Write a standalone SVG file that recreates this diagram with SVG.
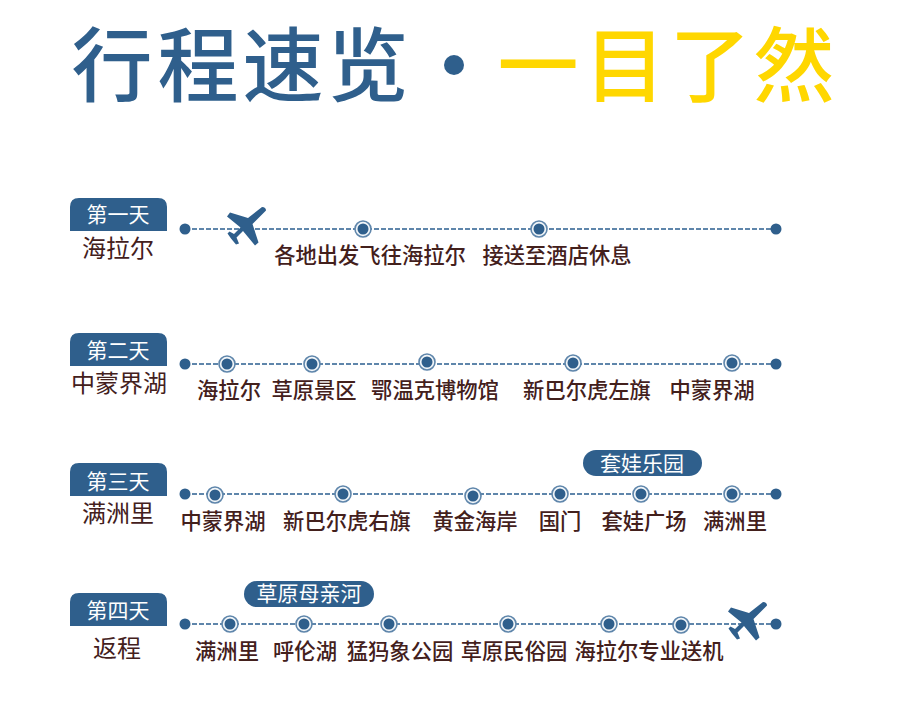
<svg xmlns="http://www.w3.org/2000/svg" xmlns:xlink="http://www.w3.org/1999/xlink" width="900" height="714" viewBox="0 0 900 714">
<style>
text{font-family:"Noto Sans CJK SC","Noto Sans",sans-serif}
.t{font-size:81px;font-weight:500;text-anchor:middle}
.b{fill:#2f5f8c}.y{fill:#ffd700}
.tag{font-size:21px;fill:#fff;text-anchor:middle}
.pl{font-size:24px;fill:#43201c;text-anchor:middle}
.lb{font-size:21.3px;font-weight:500;fill:#43201c;text-anchor:middle}
.ln{stroke:#5f86ab;stroke-width:1.8;stroke-dasharray:5 2;fill:none}
.e{fill:#2f5f8c}
.ro{fill:#f2f6f9;stroke:#5f86ab;stroke-width:1.6}
.ri{fill:#2f5f8c}
</style>
<defs>
<path id="tab" class="e" d="M70,231V207Q70,198 79,198H158Q167,198 167,207V231Z"/>
<path id="plane" class="e" d="M262,207Q266,207 266,210.500L252.500,224L258.500,242.500L255,245.500L243,231L236.500,237.500L239,243.500L236,244.500L231,238.500L227.500,233.500L229.500,231.500L234,234L240.500,227.500L227,216.500L230,212.500L248,218Z"/>
<g id="st"><circle class="ro" cx="0" cy="0" r="8"/><circle class="ri" cx="0" cy="0" r="5.500"/></g>
</defs>
<g id="title">
<text class="t b" x="112" y="95">行</text><text class="t b" x="198" y="95">程</text><text class="t b" x="283" y="95">速</text><text class="t b" x="368" y="95">览</text>
<circle class="e" cx="454" cy="65" r="10"/>
<text class="t y" x="538" y="95">一</text><text class="t y" x="625" y="95">目</text><text class="t y" x="710" y="95">了</text><text class="t y" x="794" y="95">然</text>
</g>
<g id="connectors">
<path class="ln" d="M185,229H776"/>
<path class="ln" d="M185,364H776"/>
<path class="ln" d="M185,494H776"/>
<path class="ln" d="M185,624H776"/>
</g>
<g id="day1">
<use xlink:href="#tab" href="#tab"/><text class="tag" x="118" y="222">第一天</text><text class="pl" x="118" y="257">海拉尔</text>
<circle class="e" cx="185" cy="229" r="5.500"/><circle class="e" cx="776" cy="229" r="5.500"/>
<use href="#plane"/>
<use href="#st" x="363" y="229"/><use href="#st" x="539" y="229"/>
<text class="lb" x="370" y="263">各地出发飞往海拉尔</text><text class="lb" x="557" y="263">接送至酒店休息</text>
</g>
<g id="day2">
<use href="#tab" y="135"/><text class="tag" x="118" y="358">第二天</text><text class="pl" x="119" y="392">中蒙界湖</text>
<circle class="e" cx="185" cy="364" r="5.500"/><circle class="e" cx="776" cy="364" r="5.500"/>
<use href="#st" x="227" y="364"/><use href="#st" x="312" y="364"/><use href="#st" x="427" y="362"/><use href="#st" x="573" y="363"/><use href="#st" x="732" y="363"/>
<text class="lb" x="229" y="398">海拉尔</text><text class="lb" x="314" y="398">草原景区</text><text class="lb" x="435" y="398">鄂温克博物馆</text><text class="lb" x="587" y="398">新巴尔虎左旗</text><text class="lb" x="712" y="398">中蒙界湖</text>
</g>
<g id="day3">
<use href="#tab" y="265"/><text class="tag" x="118" y="489">第三天</text><text class="pl" x="118" y="522">满洲里</text>
<circle class="e" cx="185" cy="494" r="5.500"/><circle class="e" cx="776" cy="494" r="5.500"/>
<use href="#st" x="215" y="495"/><use href="#st" x="343" y="494"/><use href="#st" x="473" y="496"/><use href="#st" x="560" y="494"/><use href="#st" x="641" y="494"/><use href="#st" x="732" y="494"/>
<rect class="e" x="583" y="450" width="119" height="26" rx="13"/><text class="tag" x="642" y="471">套娃乐园</text>
<text class="lb" x="223" y="529">中蒙界湖</text><text class="lb" x="347" y="529">新巴尔虎右旗</text><text class="lb" x="475" y="529">黄金海岸</text><text class="lb" x="560" y="529">国门</text><text class="lb" x="644" y="529">套娃广场</text><text class="lb" x="735" y="529">满洲里</text>
</g>
<g id="day4">
<use href="#tab" y="395"/><text class="tag" x="118" y="618">第四天</text><text class="pl" x="117" y="657">返程</text>
<circle class="e" cx="185" cy="624" r="5.500"/><circle class="e" cx="776" cy="624" r="5.500"/>
<use href="#st" x="230" y="624"/><use href="#st" x="304" y="624"/><use href="#st" x="389" y="624"/><use href="#st" x="508" y="624"/><use href="#st" x="609" y="624"/><use href="#st" x="681" y="625"/>
<use href="#plane" x="501" y="395"/>
<rect class="e" x="244" y="581" width="130" height="26" rx="13"/><text class="tag" x="309" y="601">草原母亲河</text>
<text class="lb" x="227" y="659">满洲里</text><text class="lb" x="305" y="659">呼伦湖</text><text class="lb" x="400" y="659">猛犸象公园</text><text class="lb" x="514" y="659">草原民俗园</text><text class="lb" x="649" y="659">海拉尔专业送机</text>
</g>
</svg>
